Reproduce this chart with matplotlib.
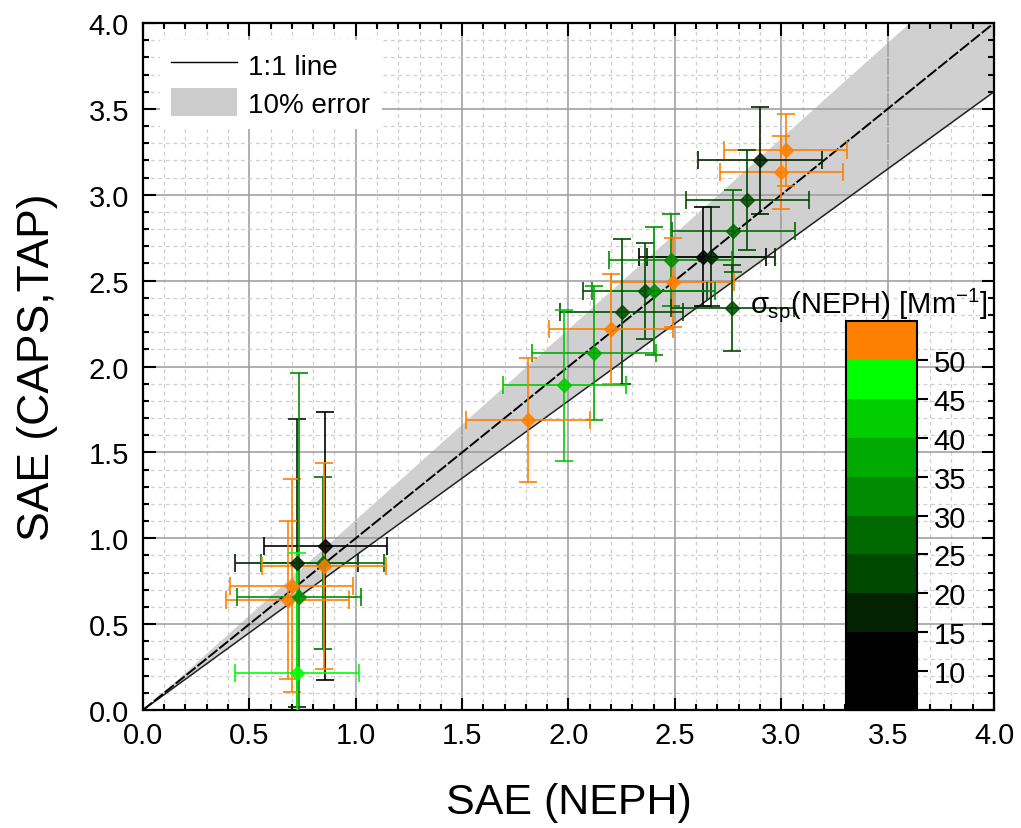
import numpy as np
import matplotlib
matplotlib.use("Agg")
import matplotlib.pyplot as plt
from matplotlib.colors import ListedColormap, BoundaryNorm
from matplotlib.ticker import MultipleLocator, FormatStrFormatter
from matplotlib.patches import Patch
from matplotlib.lines import Line2D

plt.rcParams['font.family'] = ['Liberation Sans', 'DejaVu Sans']
plt.rcParams['mathtext.fontset'] = 'custom'
plt.rcParams['mathtext.rm'] = 'Liberation Sans'
plt.rcParams['mathtext.it'] = 'Liberation Sans'

# ---- data ----
sae_neph = [3.02, 3.00, 2.90, 2.84, 2.775, 2.63, 2.67, 2.48, 2.49, 2.36, 2.40,
            2.77, 2.25, 2.20, 2.12, 1.98, 1.81,
            0.857, 0.722, 0.844, 0.851, 0.699, 0.680, 0.733, 0.725]
sae_caps = [3.26, 3.13, 3.20, 2.97, 2.79, 2.64, 2.64, 2.62, 2.49, 2.44, 2.44,
            2.34, 2.32, 2.22, 2.08, 1.89, 1.69,
            0.953, 0.856, 0.856, 0.837, 0.724, 0.640, 0.660, 0.215]
err_neph = [0.29, 0.29, 0.29, 0.29, 0.29, 0.30, 0.30, 0.29, 0.29, 0.29, 0.29,
            0.29, 0.29, 0.29, 0.29, 0.29, 0.29,
            0.29, 0.29, 0.29, 0.29, 0.29, 0.29, 0.29, 0.29]
err_caps = [0.21, 0.21, 0.31, 0.29, 0.24, 0.29, 0.29, 0.27, 0.26, 0.28, 0.37,
            0.25, 0.42, 0.32, 0.39, 0.44, 0.36,
            0.78, 0.84, 0.50, 0.60, 0.62, 0.46, 1.30, 0.70]
sigma_sp = [52, 52, 18, 22, 27, 10, 17, 32, 52, 24, 30,
            20, 22, 52, 38, 42, 52,
            10, 17, 28, 52, 52, 52, 33, 47]

cbar_bounds = [5, 15, 20, 25, 30, 35, 40, 45, 50, 55]
cbar_colors = ['#000000', '#022202', '#004a00', '#006a00', '#008c00',
               '#00aa00', '#00cc00', '#00ff00', '#ff8000']
cbar_ticks = [10, 15, 20, 25, 30, 35, 40, 45, 50]
error_frac = 0.10

cmap = ListedColormap(cbar_colors)
norm = BoundaryNorm(cbar_bounds, cmap.N)

fig = plt.figure(figsize=(10.21, 8.29), dpi=100)
ax = fig.add_axes([0.140, 0.1423, 0.8336, 0.8287])

xx = np.linspace(0, 4, 200)
ax.fill_between(xx, xx * (1 - error_frac), xx / (1 - error_frac),
                color='#d0d0d0', lw=0, zorder=1)
ax.plot(xx, xx * (1 - error_frac), color='#222222', lw=1.1, zorder=2)
ax.plot(xx, xx, color='black', lw=1.4, dashes=(6, 1.2), zorder=2)

for xv, yv, xe, ye, s in zip(sae_neph, sae_caps, err_neph, err_caps, sigma_sp):
    c = cmap(norm(s))
    ax.errorbar(xv, yv, xerr=xe, yerr=ye, fmt='D', color=c, ms=7.5,
                ecolor=c, elinewidth=1.4, capsize=6.5, capthick=1.4,
                alpha=0.85, zorder=3)

ax.set_xlim(0, 4)
ax.set_ylim(0, 4)
ax.xaxis.set_major_locator(MultipleLocator(0.5))
ax.yaxis.set_major_locator(MultipleLocator(0.5))
ax.xaxis.set_minor_locator(MultipleLocator(0.1))
ax.yaxis.set_minor_locator(MultipleLocator(0.1))
ax.xaxis.set_major_formatter(FormatStrFormatter('%.1f'))
ax.yaxis.set_major_formatter(FormatStrFormatter('%.1f'))
ax.grid(which='major', color='#9a9a9a', lw=1.1, zorder=1.5)
ax.grid(which='minor', color='#cfcfcf', lw=0.9, ls=(0, (3, 3)), zorder=1.5)
ax.tick_params(which='both', direction='in', top=True, right=True,
               width=1.5, labelsize=21)
ax.tick_params(which='major', length=9)
ax.tick_params(which='minor', length=4.5)
ax.tick_params(axis='x', pad=8)
ax.tick_params(axis='y', pad=10)
for sp in ax.spines.values():
    sp.set_linewidth(1.6)

ax.set_xlabel('SAE (NEPH)', fontsize=31, labelpad=24)
ax.set_ylabel('SAE (CAPS,TAP)', fontsize=32, labelpad=22)

handles = [Line2D([], [], color='black', lw=1.0),
           Patch(facecolor='#cccccc', edgecolor='none')]
leg = ax.legend(handles, ['1:1 line', '10% error'], loc='upper left',
                fontsize=20, frameon=True, facecolor='white', edgecolor='none',
                framealpha=1, fancybox=False, handlelength=2.4, handleheight=1.15,
                borderaxespad=0.6, labelspacing=0.3, handletextpad=0.4)
leg.set_zorder(5)

cax = fig.add_axes([0.8286, 0.1423, 0.0695, 0.4692])
cb = fig.colorbar(matplotlib.cm.ScalarMappable(norm=norm, cmap=cmap), cax=cax,
                  boundaries=cbar_bounds, spacing='proportional', ticks=cbar_ticks)
cb.outline.set_linewidth(1.5)
cax.tick_params(labelsize=21, length=8, width=1.5, direction='out', pad=4)
cax.minorticks_off()
fig.text(0.967, 0.632, r'$\sigma_{sp}$(NEPH) [Mm$^{-1}$]', fontsize=21,
         ha='right', va='center')

fig.savefig('out.png', dpi=100)
